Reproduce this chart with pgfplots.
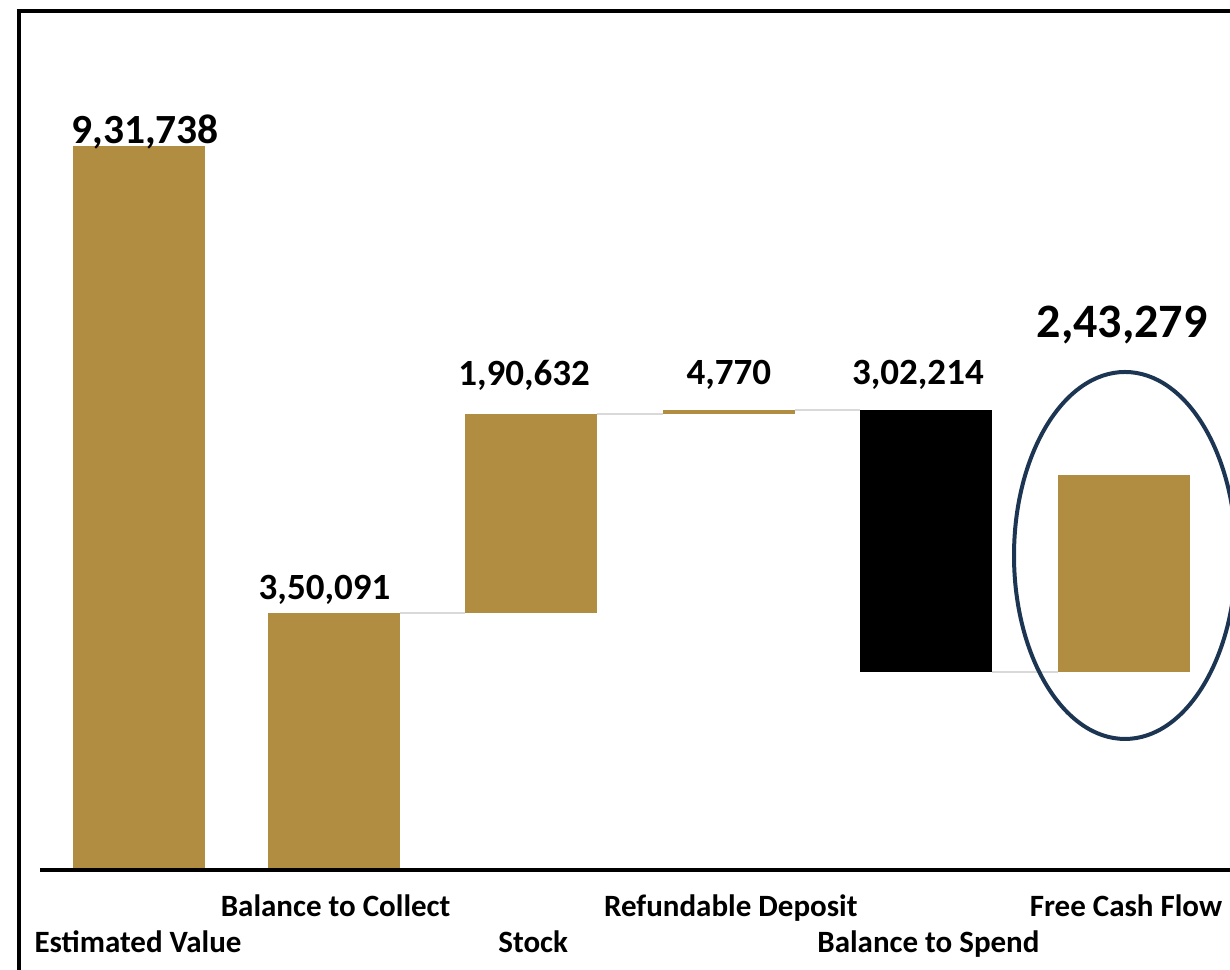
\documentclass[border=0pt]{standalone}
\usepackage{fontspec}
\setmainfont{Carlito}
\usepackage{pgfplots}
\pgfplotsset{compat=1.18}
\definecolor{gold}{HTML}{B08D40}
\definecolor{navy}{HTML}{1C3553}
\definecolor{conn}{HTML}{D9D9D9}
\begin{document}
\begin{tikzpicture}
\begin{axis}[
  scale only axis, width=1230bp, height=869bp,
  xmin=-0.6883, xmax=5.5364, ymin=0, ymax=1119880,
  axis line style={draw=none}, ytick=\empty,
  xtick={1,3,5},
  xticklabels={Balance to Collect, Refundable Deposit, Free Cash Flow},
  extra x ticks={0,2,4},
  extra x tick labels={Estimated Value, Stock, Balance to Spend},
  major tick length=0pt, tick style={draw=none},
  xticklabel style={anchor=base, yshift=-48bp, xshift=2bp, inner sep=0pt,
    font=\bfseries\fontsize{31bp}{33bp}\selectfont},
  extra x tick style={xticklabel style={yshift=-36bp}},
  clip=false, no markers,
]
% bars (floating, waterfall)
\addplot[fill=gold, draw=none] coordinates {(-0.319,0)(0.349,0)(0.349,931738)(-0.319,931738)};
\addplot[fill=gold, draw=none] coordinates {(0.666,0)(1.334,0)(1.334,329900)(0.666,329900)};
\addplot[fill=gold, draw=none] coordinates {(1.666,329900)(2.334,329900)(2.334,586360)(1.666,586360)};
\addplot[fill=gold, draw=none] coordinates {(2.666,586360)(3.334,586360)(3.334,591510)(2.666,591510)};
\addplot[fill=black, draw=none] coordinates {(3.666,253870)(4.334,253870)(4.334,591510)(3.666,591510)};
\addplot[fill=gold, draw=none] coordinates {(4.666,253870)(5.334,253870)(5.334,507750)(4.666,507750)};
% connectors
\addplot[conn, line width=2bp] coordinates {(1.334,329900)(1.666,329900)};
\addplot[conn, line width=2bp] coordinates {(2.334,586360)(2.666,586360)};
\addplot[conn, line width=2bp] coordinates {(3.334,591510)(3.666,591510)};
\addplot[conn, line width=2bp] coordinates {(4.334,253870)(4.666,253870)};
% value labels
\node[anchor=base, font=\bfseries\fontsize{41.5bp}{44bp}\selectfont] at (axis cs:0.046,934300) {9,31,738};
\node[anchor=base, font=\bfseries\fontsize{37bp}{40bp}\selectfont] at (axis cs:0.954,346660) {3,50,091};
\node[anchor=base, font=\bfseries\fontsize{37bp}{40bp}\selectfont] at (axis cs:1.964,622440) {1,90,632};
\node[anchor=base, font=\bfseries\fontsize{37bp}{40bp}\selectfont] at (axis cs:3.0,623730) {4,770};
\node[anchor=base, font=\bfseries\fontsize{37bp}{40bp}\selectfont] at (axis cs:3.957,623730) {3,02,214};
\node[anchor=base, font=\bfseries\fontsize{48bp}{52bp}\selectfont] at (axis cs:4.99,684300) {2,43,279};
% highlight ellipse
\draw[navy, line width=4bp] (axis cs:5.005,404010) ellipse [x radius=111bp, y radius=183.5bp];
% baseline
\draw[black, line width=3.5bp] ([xshift=40bp,yshift=-1bp]rel axis cs:0,0) -- ([yshift=-1bp]rel axis cs:1,0);
% frame
\draw[black, line width=4bp] ([xshift=17bp,yshift=-11.5bp]rel axis cs:0,1) -- ([yshift=-11.5bp]rel axis cs:1,1);
\draw[black, line width=4bp] ([xshift=19bp,yshift=-9.5bp]rel axis cs:0,1) -- ([xshift=19bp,yshift=-110bp]rel axis cs:0,0);
\coordinate (bl) at (rel axis cs:0,0);
\coordinate (tr) at (rel axis cs:1,1);
\end{axis}
\pgfresetboundingbox
\path[use as bounding box] ([yshift=-101bp]bl) rectangle (tr);
\end{tikzpicture}
\end{document}
